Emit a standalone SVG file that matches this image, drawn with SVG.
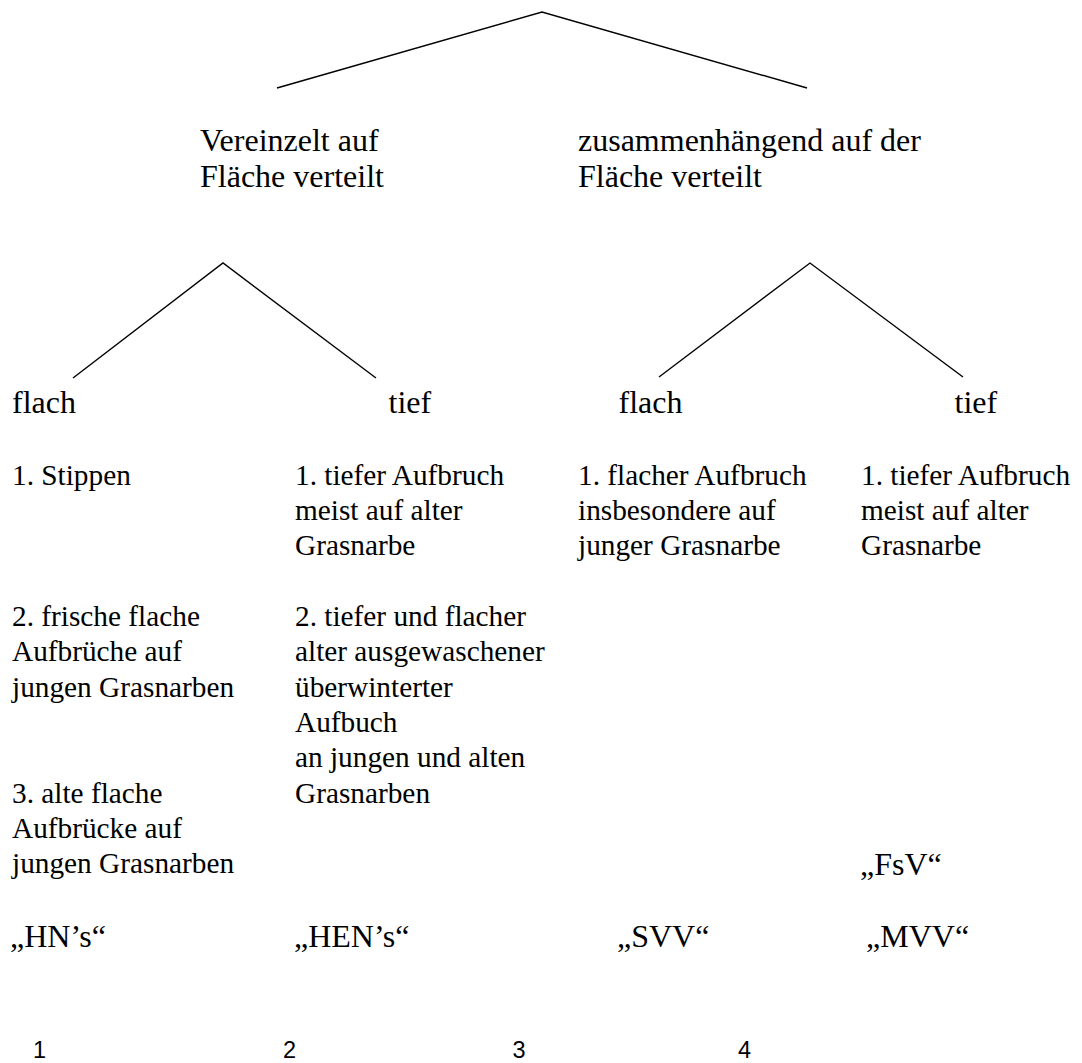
<svg xmlns="http://www.w3.org/2000/svg" width="1082" height="1063" viewBox="0 0 1082 1063">
<style>
.h{font-family:"Liberation Serif","Times New Roman",serif;font-size:32px;fill:#000}
.t{font-family:"Liberation Serif","Times New Roman",serif;font-size:29.3px;fill:#000}
.n{font-family:"Liberation Sans",Arial,sans-serif;font-size:23.5px;fill:#000}
.c{stroke:#000;stroke-width:1.4;fill:none}
</style>
<rect width="1082" height="1063" fill="#fff"/>
<g id="connectors">
<polyline class="c" points="277,88 542,12 807,88"/>
<polyline class="c" points="73,378 223,263 376,378"/>
<polyline class="c" points="659,377 810,263 963,377"/>
</g>
<g id="node-vereinzelt">
<text class="h" x="200" y="150.7">Vereinzelt auf</text>
<text class="h" x="200" y="187.3">Fläche verteilt</text>
</g>
<g id="node-zusammenhaengend">
<text class="h" x="578" y="150.7">zusammenhängend auf der</text>
<text class="h" x="578" y="187.3">Fläche verteilt</text>
</g>
<g id="node-flach-1"><text class="h" x="12" y="412.7">flach</text></g>
<g id="node-tief-1"><text class="h" x="388.5" y="412.7">tief</text></g>
<g id="node-flach-2"><text class="h" x="618.5" y="412.7">flach</text></g>
<g id="node-tief-2"><text class="h" x="954.5" y="412.7">tief</text></g>
<g id="list-col1">
<text class="t" x="12" y="484.8">1. Stippen</text>
<text class="t" x="12" y="626">2. frische flache</text>
<text class="t" x="12" y="661.3">Aufbrüche auf</text>
<text class="t" x="12" y="696.6">jungen Grasnarben</text>
<text class="t" x="12" y="802.5">3. alte flache</text>
<text class="t" x="12" y="837.8">Aufbrücke auf</text>
<text class="t" x="12" y="873.1">jungen Grasnarben</text>
</g>
<g id="list-col2">
<text class="t" x="295" y="484.8">1. tiefer Aufbruch</text>
<text class="t" x="295" y="520.1">meist auf alter</text>
<text class="t" x="295" y="555.4">Grasnarbe</text>
<text class="t" x="295" y="626">2. tiefer und flacher</text>
<text class="t" x="295" y="661.3">alter ausgewaschener</text>
<text class="t" x="295" y="696.6">überwinterter</text>
<text class="t" x="295" y="731.9">Aufbuch</text>
<text class="t" x="295" y="767.2">an jungen und alten</text>
<text class="t" x="295" y="802.5">Grasnarben</text>
</g>
<g id="list-col3">
<text class="t" x="578" y="484.8">1. flacher Aufbruch</text>
<text class="t" x="578" y="520.1">insbesondere auf</text>
<text class="t" x="578" y="555.4">junger Grasnarbe</text>
</g>
<g id="list-col4">
<text class="t" x="861" y="484.8">1. tiefer Aufbruch</text>
<text class="t" x="861" y="520.1">meist auf alter</text>
<text class="t" x="861" y="555.4">Grasnarbe</text>
</g>
<g id="label-fsv"><text class="h" x="860" y="875">„FsV“</text></g>
<g id="label-hns"><text class="h" x="10" y="946.7">„HN’s“</text></g>
<g id="label-hens"><text class="h" x="294" y="946.7">„HEN’s“</text></g>
<g id="label-svv"><text class="h" x="617" y="946.7">„SVV“</text></g>
<g id="label-mvv"><text class="h" x="866" y="946.7">„MVV“</text></g>
<g id="numbers">
<text class="n" x="33" y="1058">1</text>
<text class="n" x="283" y="1058">2</text>
<text class="n" x="512.5" y="1058">3</text>
<text class="n" x="738" y="1058">4</text>
</g>
</svg>
